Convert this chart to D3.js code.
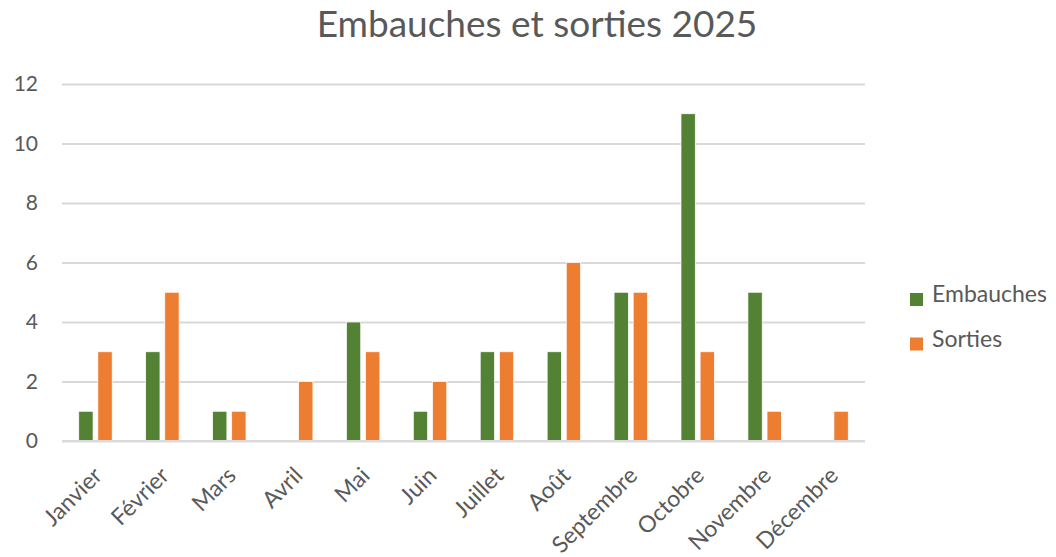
<!DOCTYPE html>
<html>
  <head>
    <meta charset="utf-8">
    <script src="https://cdn.jsdelivr.net/npm/d3@7"></script>
    <style>
      body { margin: 0; background: #fff; }
      text { font-family: Lato, "Open Sans", sans-serif; fill: #595959; }
    </style>
  </head>
  <body>
    <script>
var width = 1056;
var height = 557;

// data
var months = ['Janvier', 'Février', 'Mars', 'Avril', 'Mai', 'Juin', 'Juillet',
  'Août', 'Septembre', 'Octobre', 'Novembre', 'Décembre'];
var embauches = [1, 3, 1, 0, 4, 1, 3, 3, 5, 11, 5, 0];
var sorties = [3, 5, 1, 2, 3, 2, 3, 6, 5, 3, 1, 1];
var seriesNames = ['Embauches', 'Sorties'];
var colors = ['#548235', '#ED7D31'];
var yTicks = [0, 2, 4, 6, 8, 10, 12];

var svg = d3.select('body').append('svg')
  .attr('width', width)
  .attr('height', height);

var plot = {left: 62, right: 865, top: 84, bottom: 441};

var x0 = d3.scaleBand()
  .domain(months)
  .range([plot.left, plot.right])
  .paddingInner(0.5)
  .paddingOuter(0.25);

var x1 = d3.scaleBand()
  .domain(seriesNames)
  .range([0, x0.bandwidth()])
  .paddingInner(0.25);

var y = d3.scaleLinear()
  .domain([0, 12])
  .range([plot.bottom, plot.top]);

// title
svg.append('text')
  .attr('x', 537)
  .attr('y', 37)
  .attr('text-anchor', 'middle')
  .style('font-size', '37px')
  .text('Embauches et sorties 2025');

// gridlines + y labels
var yAxis = d3.axisLeft(y)
  .tickValues(yTicks)
  .tickSize(-(plot.right - plot.left))
  .tickPadding(24);

var gy = svg.append('g')
  .attr('transform', 'translate(' + plot.left + ',0)')
  .call(yAxis);
gy.select('.domain').remove();
gy.selectAll('.tick line')
  .attr('stroke', '#d9d9d9')
  .attr('stroke-width', 2);
gy.selectAll('.tick text')
  .style('font-size', '21px')
  .style('font-family', 'Lato, sans-serif')
  .attr('fill', '#595959');

// bars
var rows = months.map(function(m, i) {
  return {month: m, values: [embauches[i], sorties[i]]};
});

var groups = svg.selectAll('g.month')
  .data(rows)
  .enter().append('g')
  .attr('class', 'month')
  .attr('transform', function(d) { return 'translate(' + x0(d.month) + ',0)'; });

groups.selectAll('rect')
  .data(function(d) {
    return d.values.map(function(v, j) { return {name: seriesNames[j], value: v, color: colors[j]}; });
  })
  .enter().append('rect')
  .filter(function(d) { return d.value > 0; })
  .attr('x', function(d) { return x1(d.name); })
  .attr('y', function(d) { return y(d.value); })
  .attr('width', x1.bandwidth())
  .attr('height', function(d) { return y(0) - y(d.value); })
  .attr('fill', function(d) { return d.color; })
  .attr('stroke', '#fff')
  .attr('stroke-width', 0.75);

// x axis line + labels
svg.append('line')
  .attr('x1', plot.left)
  .attr('x2', plot.right)
  .attr('y1', y(0))
  .attr('y2', y(0))
  .attr('stroke', '#d9d9d9')
  .attr('stroke-width', 2);

svg.selectAll('text.month-label')
  .data(months)
  .enter().append('text')
  .attr('class', 'month-label')
  .attr('text-anchor', 'end')
  .attr('transform', function(d) {
    var cx = x0(d) + x0.bandwidth() / 2;
    return 'translate(' + (cx + 8) + ',477) rotate(-45)';
  })
  .style('font-size', '23px')
  .text(function(d) { return d; });

// legend
var legend = svg.selectAll('g.legend')
  .data(seriesNames)
  .enter().append('g')
  .attr('class', 'legend')
  .attr('transform', function(d, i) { return 'translate(910,' + (293 + i * 44.5) + ')'; });

legend.append('rect')
  .attr('width', 13)
  .attr('height', 13)
  .attr('fill', function(d, i) { return colors[i]; });

legend.append('text')
  .attr('x', 22)
  .attr('y', 9)
  .style('font-size', '23px')
  .text(function(d) { return d; });
    </script>
  </body>
</html>
